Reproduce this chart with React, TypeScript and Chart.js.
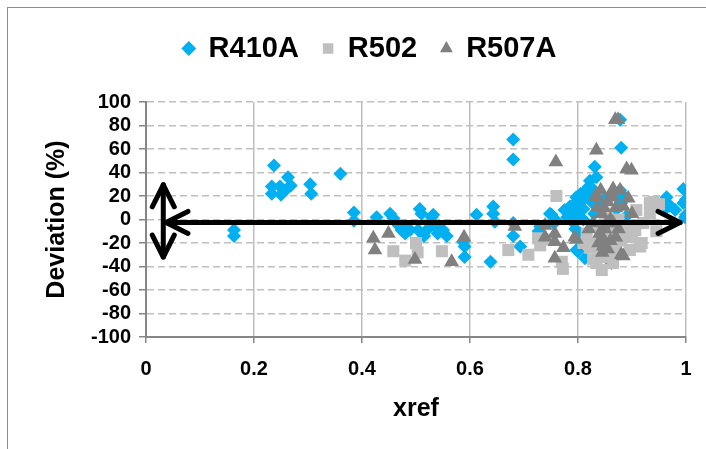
import React, { useEffect, useRef } from "react";
import { Chart, registerables } from "chart.js";

Chart.register(...registerables);

const FONT = '"Liberation Sans", Arial, sans-serif';

// Axis ticks
const xTickValues = [0, 0.2, 0.4, 0.6, 0.8, 1];
const xTickLabels = ["0", "0.2", "0.4", "0.6", "0.8", "1"];
const yTickValues = [-100, -80, -60, -40, -20, 0, 20, 40, 60, 80, 100];
const yTickLabels = ["-100", "-80", "-60", "-40", "-20", "0", "20", "40", "60", "80", "100"];

// Series names
const seriesNames = ["R410A", "R502", "R507A"];

// R410A (xref, deviation %)
const r410a: [number, number][] = [
  [0.163, -9], [0.163, -14],
  [0.237, 46], [0.233, 28], [0.233, 22], [0.25, 21], [0.248, 28], [0.263, 36], [0.268, 29], [0.258, 25],
  [0.304, 30], [0.306, 22], [0.36, 39], [0.385, 6], [0.385, -1],
  [0.427, 2], [0.452, 5], [0.458, 1], [0.473, -9], [0.489, -9], [0.468, -5], [0.48, -12], [0.48, -6],
  [0.507, 9], [0.51, 5], [0.529, 2], [0.532, 4], [0.52, -9], [0.504, -9], [0.515, -14], [0.535, -6],
  [0.544, -10], [0.55, -9], [0.557, -14], [0.54, -12],
  [0.587, -19], [0.59, -23], [0.59, -32],
  [0.612, 4], [0.643, 11], [0.643, 5], [0.646, -2], [0.638, -36],
  [0.68, 68], [0.68, 51], [0.68, -3], [0.68, -14], [0.693, -23],
  [0.727, -10], [0.73, -6], [0.748, 5], [0.751, 4], [0.755, -3], [0.76, -1],
  [0.775, 8], [0.785, 11], [0.797, 19], [0.79, 6], [0.8, 14], [0.805, 22], [0.81, 17], [0.815, 25],
  [0.82, 28], [0.822, 33], [0.834, 36], [0.831, 45], [0.8, 3], [0.81, 9], [0.79, -2], [0.795, -8],
  [0.804, -12], [0.797, -26], [0.813, -33], [0.8, -27], [0.862, -37],
  [0.78, 2], [0.79, 12], [0.8, 8], [0.82, 20], [0.825, 15], [0.83, 25], [0.81, 0], [0.83, 5],
  [0.84, 12], [0.85, 18], [0.86, 4], [0.87, 8], [0.88, 14], [0.875, 22], [0.89, 3], [0.86, -4],
  [0.845, -10], [0.878, 25],
  [0.878, 85], [0.88, 61], [0.885, 20],
  [0.964, 19], [0.97, 12], [0.964, 10], [0.995, 26], [0.995, 14], [0.998, 2], [1.0, 17], [1.0, 4], [0.98, 8],
];

// R502
const r502: [number, number][] = [
  [0.458, -27], [0.48, -35], [0.5, -20], [0.503, -28], [0.548, -27],
  [0.671, -26], [0.708, -30], [0.73, -22], [0.726, -16], [0.745, -17], [0.76, 20], [0.77, -36], [0.772, -42],
  [0.816, -12], [0.822, -24], [0.828, -34], [0.834, -37], [0.844, -43], [0.844, -32], [0.865, -37],
  [0.896, -26], [0.89, -9], [0.908, 8], [0.915, -23], [0.921, -3], [0.933, 14], [0.933, 5], [0.94, 15],
  [0.918, -20], [0.906, -9],
  [0.84, -5], [0.85, -15], [0.86, -20], [0.87, -10], [0.875, 0], [0.855, 5], [0.88, -18], [0.9, -15],
  [0.86, -28], [0.85, 0], [0.83, -20], [0.87, -25], [0.95, 13], [0.945, -10], [0.81, -20],
];

// R507A
const r507a: [number, number][] = [
  [0.421, -16], [0.424, -26], [0.449, -12], [0.498, -34], [0.566, -36], [0.589, -15], [0.683, -6],
  [0.739, -5], [0.739, -15], [0.757, -12], [0.757, -19], [0.773, -24], [0.757, -33], [0.759, 49],
  [0.797, -17], [0.794, -15],
  [0.834, 59], [0.869, 85], [0.874, 85], [0.89, 43], [0.899, 42], [0.884, -31],
  [0.834, 21], [0.865, 26], [0.878, 25], [0.834, 19], [0.865, 19], [0.884, 11], [0.9, 5], [0.844, 5],
  [0.853, -3], [0.84, -12], [0.846, -23], [0.88, -30], [0.828, -3], [0.865, -3], [0.855, 15], [0.87, 10],
  [0.85, -8], [0.845, -15], [0.86, -18], [0.838, -20], [0.875, -8], [0.848, 10], [0.893, 18], [0.82, -8],
  [0.835, 10], [0.845, -28], [0.855, -25], [0.86, 0], [0.87, -15], [0.862, 22], [0.842, 25],
];

// Arrow annotations (data units)
const arrowHX = [0.037, 0.989];
const arrowHY = -2.5;
const arrowVX = 0.032;
const arrowVY = [-32, 29.5];

const frame = {
  id: "frame",
  beforeDraw(chart: any) {
    const { ctx, width, height } = chart;
    ctx.save();
    ctx.fillStyle = "#ffffff";
    ctx.fillRect(0, 0, width, height);
    ctx.strokeStyle = "#8c8c8c";
    ctx.lineWidth = 1;
    ctx.strokeRect(7.5, 7.5, width + 40, height + 40);
    ctx.restore();
  },
};

const legendSpace = {
  id: "legendSpace",
  beforeInit(chart: any) {
    const lg = chart.legend;
    if (!lg) return;
    const fit = lg.fit;
    lg.fit = function () {
      fit.call(this);
      this.height = 92;
    };
  },
};

const arrows = {
  id: "arrows",
  afterDatasetsDraw(chart: any) {
    const { ctx } = chart;
    const x = chart.scales.x;
    const y = chart.scales.y;
    const L = 22;
    const W = 11;
    const line = (x0: number, y0: number, x1: number, y1: number) => {
      ctx.beginPath();
      ctx.moveTo(x0, y0);
      ctx.lineTo(x1, y1);
      ctx.stroke();
    };
    const head = (tx: number, ty: number, dx: number, dy: number) => {
      const px = -dy;
      const py = dx;
      ctx.beginPath();
      ctx.moveTo(tx - L * dx + W * px, ty - L * dy + W * py);
      ctx.lineTo(tx, ty);
      ctx.lineTo(tx - L * dx - W * px, ty - L * dy - W * py);
      ctx.stroke();
    };
    ctx.save();
    ctx.strokeStyle = "#000000";
    ctx.lineWidth = 5;
    ctx.lineCap = "round";
    ctx.lineJoin = "round";
    const hy = y.getPixelForValue(arrowHY);
    const hx0 = x.getPixelForValue(arrowHX[0]);
    const hx1 = x.getPixelForValue(arrowHX[1]);
    line(hx0, hy, hx1, hy);
    head(hx0, hy, -1, 0);
    head(hx1, hy, 1, 0);
    const vx = x.getPixelForValue(arrowVX);
    const vy0 = y.getPixelForValue(arrowVY[0]);
    const vy1 = y.getPixelForValue(arrowVY[1]);
    line(vx, vy0, vx, vy1);
    head(vx, vy1, 0, -1);
    head(vx, vy0, 0, 1);
    ctx.restore();
  },
};

const toPts = (arr: [number, number][]) => arr.map(([x, y]) => ({ x, y }));

export default function App() {
  const ref = useRef<HTMLCanvasElement | null>(null);
  useEffect(() => {
    if (!ref.current) return;
    const chart = new Chart(ref.current, {
      type: "scatter",
      data: {
        datasets: [
          {
            label: seriesNames[0],
            data: toPts(r410a),
            pointStyle: "rectRot",
            pointRadius: 7,
            pointHoverRadius: 7,
            backgroundColor: "#00B0F0",
            borderColor: "#00B0F0",
            borderWidth: 0,
            order: 3,
          },
          {
            label: seriesNames[1],
            data: toPts(r502),
            pointStyle: "rect",
            pointRadius: 8.5,
            pointHoverRadius: 8.5,
            backgroundColor: "#BFBFBF",
            borderColor: "#BFBFBF",
            borderWidth: 0,
            order: 2,
          },
          {
            label: seriesNames[2],
            data: toPts(r507a),
            pointStyle: "triangle",
            pointRadius: 8.5,
            pointHoverRadius: 8.5,
            backgroundColor: "#808080",
            borderColor: "#808080",
            borderWidth: 0,
            order: 1,
          },
        ],
      },
      options: {
        responsive: false,
        animation: false,
        events: [],
        layout: { padding: { left: 54, right: 20, top: 10, bottom: 0 } },
        plugins: {
          tooltip: { enabled: false },
          legend: {
            position: "top",
            labels: {
              usePointStyle: true,
              boxWidth: 10.5,
              boxHeight: 10.5,
              padding: 24,
              color: "#000000",
              font: { family: FONT, size: 29, weight: "bold" },
              sort: (a: any, b: any) => a.datasetIndex - b.datasetIndex,
            },
          },
        },
        scales: {
          x: {
            type: "linear",
            min: 0,
            max: 1,
            afterBuildTicks: (s: any) => {
              s.ticks = xTickValues.map((v) => ({ value: v }));
            },
            afterFit: (s: any) => {
              s.height = 112;
            },
            ticks: {
              autoSkip: false,
              maxRotation: 0,
              color: "#000000",
              padding: 14,
              font: { family: FONT, size: 20, weight: "bold" },
              callback: (_v: any, i: number) => xTickLabels[i],
            },
            grid: {
              color: "#BFBFBF",
              lineWidth: 1.5,
              tickLength: 6,
              tickColor: "#868686",
              tickWidth: 1.5,
              tickBorderDash: [],
            },
            border: { color: "#868686", width: 2 },
            title: {
              display: true,
              text: "xref",
              color: "#000000",
              font: { family: FONT, size: 25, weight: "bold", lineHeight: 1.2 },
              padding: { top: 0, bottom: 25 },
            },
          },
          y: {
            type: "linear",
            min: -100,
            max: 100,
            afterBuildTicks: (s: any) => {
              s.ticks = yTickValues.map((v) => ({ value: v }));
            },
            afterFit: (s: any) => {
              s.width = 92;
            },
            ticks: {
              autoSkip: false,
              color: "#000000",
              padding: 8,
              font: { family: FONT, size: 20, weight: "bold" },
              callback: (_v: any, i: number) => yTickLabels[i],
            },
            grid: {
              color: "#BFBFBF",
              lineWidth: 1.5,
              tickLength: 7,
              tickColor: "#868686",
              tickWidth: 1.5,
              tickBorderDash: [],
            },
            border: { color: "#868686", width: 2, dash: [7, 4] },
            title: {
              display: true,
              text: "Deviation (%)",
              color: "#000000",
              font: { family: FONT, size: 25, weight: "bold", lineHeight: 1.2 },
              padding: { top: -12, bottom: 0 },
            },
          },
        },
      },
      plugins: [frame, legendSpace, arrows],
    } as any);
    return () => chart.destroy();
  }, []);
  return (
    <div style={{ position: "absolute", left: 0, top: 0, width: 706, height: 449 }}>
      <canvas ref={ref} width={706} height={449} style={{ width: 706, height: 449, display: "block" }} />
    </div>
  );
}
